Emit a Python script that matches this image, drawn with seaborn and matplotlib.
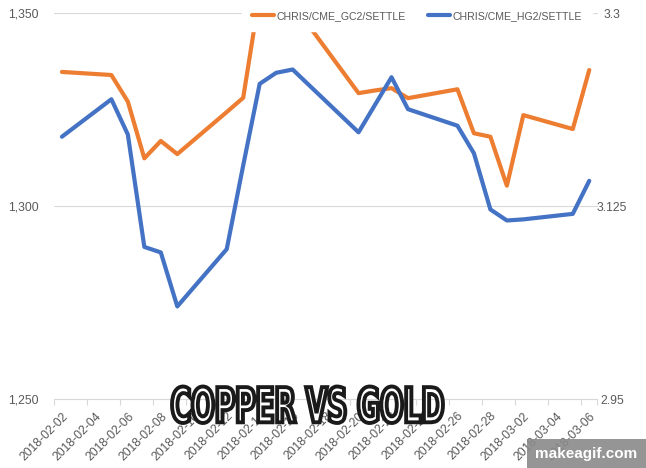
import matplotlib
matplotlib.use('Agg')
import pandas as pd
import matplotlib.pyplot as plt
import matplotlib.dates as mdates
import seaborn as sns
from matplotlib.textpath import TextPath
from matplotlib.font_manager import FontProperties
from matplotlib.patches import PathPatch, Rectangle
from matplotlib.transforms import Affine2D

# seaborn theme first, then our own font list
sns.set_theme(style='white')
plt.rcParams['font.family'] = ['Liberation Sans', 'DejaVu Sans']

# trading days (no weekends, no Feb 19 holiday)
dates = ['2018-02-02', '2018-02-05', '2018-02-06', '2018-02-07', '2018-02-08',
         '2018-02-09', '2018-02-12', '2018-02-13', '2018-02-14', '2018-02-15',
         '2018-02-16', '2018-02-20', '2018-02-21', '2018-02-22', '2018-02-23',
         '2018-02-26', '2018-02-27', '2018-02-28', '2018-03-01', '2018-03-02',
         '2018-03-05', '2018-03-06']

# gold settle (left axis)
gold_settle = [1334.8, 1334.0, 1327.1, 1312.4, 1316.9, 1313.5, 1324.4, 1328.1,
               1355.0, 1357.0, 1352.5, 1329.3, 1330.0, 1330.6, 1328.0, 1330.3,
               1318.9, 1318.0, 1305.3, 1323.6, 1320.0, 1335.3]

# copper settle (right axis)
copper_settle = [3.188, 3.222, 3.190, 3.088, 3.083, 3.034, 3.086, 3.162,
                 3.236, 3.246, 3.249, 3.192, 3.217, 3.242, 3.213, 3.198,
                 3.173, 3.122, 3.112, 3.113, 3.118, 3.148]

gold_ticks = [1250, 1300, 1350]
gold_tick_labels = ['1,250', '1,300', '1,350']
copper_ticks = [2.95, 3.125, 3.3]
copper_tick_labels = ['2.95', '3.125', '3.3']

tick_dates = ['2018-02-02', '2018-02-04', '2018-02-06', '2018-02-08', '2018-02-10',
              '2018-02-12', '2018-02-14', '2018-02-16', '2018-02-18', '2018-02-20',
              '2018-02-22', '2018-02-24', '2018-02-26', '2018-02-28', '2018-03-02',
              '2018-03-04', '2018-03-06']

gold_label = 'CHRIS/CME_GC2/SETTLE'
copper_label = 'CHRIS/CME_HG2/SETTLE'

orange = '#ED7D31'
blue = '#4472C4'
grey_text = '#595959'
grid_col = '#D9D9D9'

df = pd.DataFrame({'date': pd.to_datetime(dates),
                   'gold': gold_settle,
                   'copper': copper_settle})

W, H = 646, 468
fig = plt.figure(figsize=(W / 100, H / 100), dpi=100)
ax = fig.add_axes([53.7 / W, 1 - 399 / H, (597.5 - 53.7) / W, (399 - 13.3) / H])
ax2 = ax.twinx()

sns.lineplot(data=df, x='date', y='gold', ax=ax, color=orange, lw=3,
             label=gold_label, legend=False,
             solid_joinstyle='round', solid_capstyle='round')
sns.lineplot(data=df, x='date', y='copper', ax=ax2, color=blue, lw=3,
             label=copper_label, legend=False,
             solid_joinstyle='round', solid_capstyle='round')

# x axis: one slot per day, labels every second day
first = mdates.date2num(pd.Timestamp(dates[0]))
last = mdates.date2num(pd.Timestamp(dates[-1]))
ax.set_xlim(first - 0.5, last + 0.5)
tick_nums = mdates.date2num(pd.to_datetime(tick_dates))
ax.set_xticks(list(tick_nums - 0.5) + [last + 0.5])
ax.set_xticklabels([])
ax.set_xticks(tick_nums, minor=True)
ax.set_xticklabels(tick_dates, minor=True, rotation=45, ha='right', va='top',
                   rotation_mode='anchor')
ax.tick_params(axis='x', which='major', length=4, width=0.8, color=grid_col,
               direction='out', bottom=True)
ax.tick_params(axis='x', which='minor', length=0, pad=8, labelsize=8.7,
               labelcolor=grey_text, bottom=True)

# left axis (gold)
ax.set_ylim(1250, 1350)
ax.set_yticks(gold_ticks, gold_tick_labels)
ax.tick_params(axis='y', length=0, pad=10.6, labelsize=8.7, labelcolor=grey_text)
ax.grid(axis='y', color=grid_col, lw=0.8)
ax.grid(axis='x', visible=False)
ax.set_axisbelow(True)
ax.set_xlabel('')
ax.set_ylabel('')

# right axis (copper)
ax2.set_ylim(2.95, 3.3)
ax2.set_yticks(copper_ticks, copper_tick_labels)
ax2.tick_params(axis='y', length=0, pad=10.4, labelsize=8.7, labelcolor=grey_text)
for lab in ax2.get_yticklabels():
    lab.set_ha('center')
ax2.grid(False)
ax2.set_ylabel('')

for name, sp in ax.spines.items():
    sp.set_visible(name == 'bottom')
ax.spines['bottom'].set_color(grid_col)
ax.spines['bottom'].set_linewidth(0.8)
for sp in ax2.spines.values():
    sp.set_visible(False)

# legend on a white box across the top
h1, l1 = ax.get_legend_handles_labels()
h2, l2 = ax2.get_legend_handles_labels()
ax2.legend(h1 + h2, l1 + l2, loc='center',
           bbox_to_anchor=(417 / W, 1 - 16 / H), bbox_transform=fig.transFigure,
           ncol=2, frameon=True, fancybox=False, framealpha=1,
           edgecolor='white', facecolor='white', fontsize=7.6,
           labelcolor=grey_text, handlelength=2.1, handletextpad=0.25,
           columnspacing=2.1, borderpad=0.9)

# big outlined caption, squeezed into its box
fp = FontProperties(family='DejaVu Sans', weight='bold')
tp = TextPath((0, 0), 'COPPER VS GOLD', size=100, prop=fp)
bb = tp.get_extents()
tr = (Affine2D().translate(-bb.x0, -bb.y0)
      .scale(271 / bb.width / W, 36.5 / bb.height / H)
      .translate(172 / W, 45 / H) + fig.transFigure)
fig.add_artist(PathPatch(tp, transform=tr, facecolor='white',
                         edgecolor='#1a1a1a', lw=2.8, zorder=10))

# watermark
fig.add_artist(Rectangle((527 / W, 0), 119 / W, 28.7 / H, transform=fig.transFigure,
                         facecolor='#8a8a8a', edgecolor='none', alpha=0.9, zorder=10))
fig.text(586.5 / W, 14 / H, 'makeagif.com', ha='center', va='center',
         color='white', fontweight='bold', fontsize=11, zorder=11)

fig.savefig('out.png', dpi=100)
